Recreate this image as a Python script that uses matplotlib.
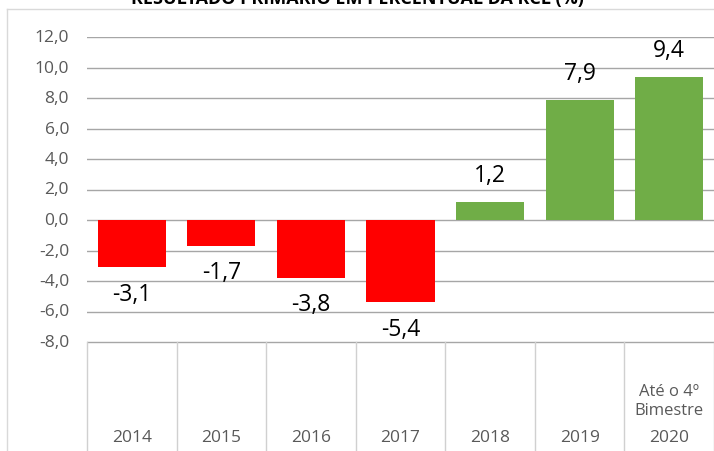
import matplotlib
matplotlib.use("Agg")
import matplotlib.pyplot as plt

years = ["2014", "2015", "2016", "2017", "2018", "2019", "2020"]
values = [-3.1, -1.7, -3.8, -5.4, 1.2, 7.9, 9.4]
value_labels = ["-3,1", "-1,7", "-3,8", "-5,4", "1,2", "7,9", "9,4"]
extra_label = "Até o 4º\nBimestre"
yticks = [-8, -6, -4, -2, 0, 2, 4, 6, 8, 10, 12]
title = "RESULTADO PRIMÁRIO EM PERCENTUAL DA RCL (%)"

plt.rcParams['font.family'] = ['Open Sans', 'DejaVu Sans']

W, H = 714, 452
fig = plt.figure(figsize=(W / 100, H / 100), dpi=100)
# axes: left 87px, right 714px, top 38px, bottom 452px
ax = fig.add_axes([87 / W, 0, 1 - 87 / W, (452 - 38) / H])
ymin = -8 - 109 / 15.25
ax.set_ylim(ymin, 12)
ax.set_xlim(-0.5, len(years) - 0.5)

colors = ["#FF0000" if v < 0 else "#70AD47" for v in values]
x = list(range(len(years)))
bars = ax.bar(x, values, width=0.76, color=colors, zorder=3)

for xi, v, lab in zip(x, values, value_labels):
    off = 19 if v > 0 else -19
    ax.annotate(lab, (xi, v), xytext=(0, off), textcoords="offset points",
                ha="center", va="center", fontsize=16.5, color="#000000",
                annotation_clip=False)

# gridlines
for t in yticks:
    ax.axhline(t, color="#A6A6A6", lw=1, zorder=1)
    ax.text(-0.5 - 0.2, t, f"{t:.1f}".replace(".", ","), ha="right", va="center",
            fontsize=12.5, color="#595959")

# category table separators
for b in range(len(years) + 1):
    ax.plot([b - 0.5, b - 0.5], [-8, ymin], color="#D0D0D0", lw=1, clip_on=False)

for xi, yr in zip(x, years):
    ax.text(xi, -8 - 95 / 15.25, yr, ha="center", va="center", fontsize=12.5,
            color="#595959")
ax.text(x[-1], -8 - 59 / 15.25, extra_label, ha="center", va="center",
        fontsize=12, color="#595959", linespacing=1.25)

for s in ax.spines.values():
    s.set_visible(False)
ax.set_xticks([])
ax.set_yticks([])
ax.patch.set_alpha(0)

# outer chart border
fig.add_artist(plt.Line2D([7 / W, 7 / W], [0, 1 - 10 / H], color="#D9D9D9", lw=1))
fig.add_artist(plt.Line2D([7 / W, 1], [1 - 10 / H, 1 - 10 / H], color="#D9D9D9", lw=1))

fig.text(0.5, 1 + 2 / H, title, ha="center", va="center", fontsize=13,
         fontweight="bold", color="#000000")

fig.savefig("out.png", dpi=100)
